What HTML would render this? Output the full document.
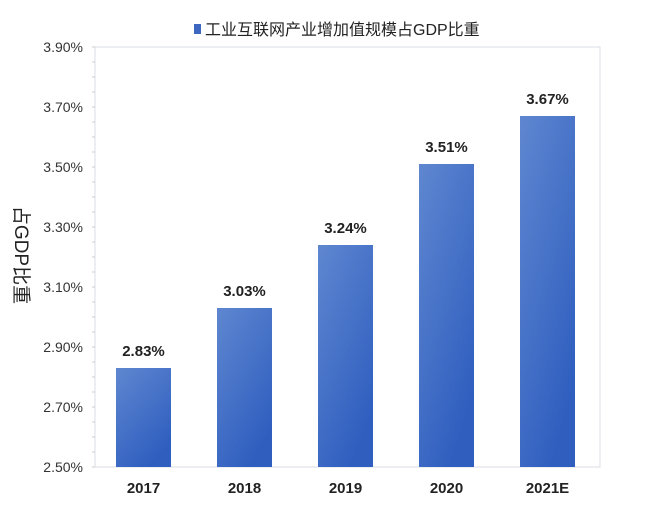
<!DOCTYPE html>
<html><head><meta charset="utf-8"><style>
body{margin:0;background:#fff;}
svg text{font-family:"Liberation Sans","Noto Sans CJK SC",sans-serif;}
</style></head><body>
<svg width="651" height="500" id="c">
<defs><linearGradient id="g" x1="0" y1="0" x2="0.6" y2="1">
<stop offset="0" stop-color="#5f87d0"/><stop offset="1" stop-color="#2f5ebf"/></linearGradient></defs>
<rect x="194" y="24" width="7" height="10" fill="#3d67c0"/>
<text x="205" y="35" font-size="16" fill="#222">工业互联网产业增加值规模占GDP比重</text>
<rect x="95" y="47" width="505" height="420" fill="none" stroke="#d9dde6" stroke-width="1"/>
<text transform="translate(15,255) rotate(90)" font-size="19" text-anchor="middle" fill="#222">占GDP比重</text>
<g id="yax"></g><g id="bars"></g>
</svg>
<script>
const categories=["2017","2018","2019","2020","2021E"];
const values=[2.83,3.03,3.24,3.51,3.67];
const valueLabels=["2.83%","3.03%","3.24%","3.51%","3.67%"];
const yTicks=[2.5,2.7,2.9,3.1,3.3,3.5,3.7,3.9];
const yTickLabels=["2.50%","2.70%","2.90%","3.10%","3.30%","3.50%","3.70%","3.90%"];
const NS="http://www.w3.org/2000/svg";
const L=95,R=600,T=47,B=467,ymin=2.5,ymax=3.9;
const y=v=>B-(v-ymin)/(ymax-ymin)*(B-T);
const bw=(R-L)/categories.length;
const x=i=>L-2+bw*(i+0.5);
function mk(t,a,p){const e=document.createElementNS(NS,t);for(const k in a)e.setAttribute(k,a[k]);p.appendChild(e);return e;}
const yax=document.getElementById('yax'),bars=document.getElementById('bars');
for(let v=ymin;v<=ymax+1e-9;v+=0.05){
 const t=mk('line',{x1:L-3,x2:L,y1:y(v),y2:y(v),stroke:'#ccc'},yax);
 
 
}
yTicks.forEach((v,i)=>{
 const t=mk('text',{x:L-12,y:y(v)+5,'font-size':14,'text-anchor':'end',fill:'#333'},yax);
 t.textContent=yTickLabels[i];
 
 
});
categories.forEach((c,i)=>{
 const r=mk('rect',{x:x(i)-27.5,y:y(values[i]),width:55,height:B-y(values[i]),fill:'url(#g)'},bars);
 
 
 const l=mk('text',{x:x(i),y:y(values[i])-12,'font-size':15,'font-weight':'bold','text-anchor':'middle',fill:'#222'},bars);
 l.textContent=valueLabels[i];
 
 
 const t=mk('text',{x:x(i),y:B+26,'font-size':15,'font-weight':'bold','text-anchor':'middle',fill:'#222'},bars);
 t.textContent=c;
 
 
});
</script>
</body></html>
